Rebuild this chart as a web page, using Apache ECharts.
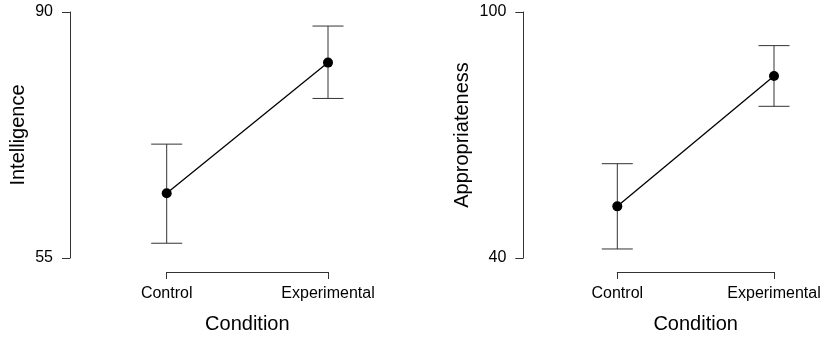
<!DOCTYPE html>
<html>
<head>
<meta charset="utf-8">
<script src="https://cdn.jsdelivr.net/npm/echarts@6/dist/echarts.min.js"></script>
<style>
  html, body { margin: 0; padding: 0; background: #fff; }
  #main { width: 828px; height: 339px; }
</style>
</head>
<body>
<div id="main"></div>
<script>
// data
var conditions = ['Control', 'Experimental'];

var intelMean = [64.2, 82.8];
var intelLow = [57.1, 77.7];
var intelHigh = [71.2, 88.0];
var intelTicks = [55, 90];

var apprMean = [52.6, 84.4];
var apprLow = [42.2, 77.0];
var apprHigh = [63.0, 91.8];
var apprTicks = [40, 100];

var myChart = echarts.init(document.getElementById('main'));

var font = 'Liberation Sans, Arial, sans-serif';

// error bar drawing (vertical line + caps)
function errorBar(params, api) {
    var x = api.value(0);
    var lo = api.coord([x, api.value(1)]);
    var hi = api.coord([x, api.value(2)]);
    var hw = 15.5;
    var st = { stroke: '#333', lineWidth: 1 };
    return {
        type: 'group',
        children: [
            { type: 'line', shape: { x1: lo[0], y1: lo[1], x2: hi[0], y2: hi[1] }, style: st },
            { type: 'line', shape: { x1: lo[0] - hw, y1: lo[1], x2: lo[0] + hw, y2: lo[1] }, style: st },
            { type: 'line', shape: { x1: hi[0] - hw, y1: hi[1], x2: hi[0] + hw, y2: hi[1] }, style: st }
        ]
    };
}

function barData(lo, hi) {
    return conditions.map(function (c, i) { return [i, lo[i], hi[i]]; });
}

function xAxisOpt(idx) {
    return {
        gridIndex: idx,
        type: 'category',
        data: conditions,
        boundaryGap: false,
        position: 'bottom',
        offset: 14,
        axisLine: { lineStyle: { color: '#333', width: 1 } },
        axisTick: { show: true, length: 7, lineStyle: { color: '#333' } },
        axisLabel: { margin: 14, color: '#000', fontSize: 16, fontFamily: font },
        splitLine: { show: false },
        name: 'Condition',
        nameLocation: 'middle',
        nameGap: 42,
        nameTextStyle: { color: '#000', fontSize: 20, fontFamily: font }
    };
}

function yAxisOpt(idx, name, ticks, offset, gap) {
    return {
        gridIndex: idx,
        type: 'value',
        min: ticks[0],
        max: ticks[ticks.length - 1],
        offset: offset,
        axisLine: { show: true, lineStyle: { color: '#333', width: 1 } },
        axisTick: { show: true, length: 8, customValues: ticks, lineStyle: { color: '#333' } },
        axisLabel: { margin: 17, color: '#000', fontSize: 16, fontFamily: font, customValues: ticks },
        splitLine: { show: false },
        name: name,
        nameLocation: 'middle',
        nameGap: gap,
        nameTextStyle: { color: '#000', fontSize: 20, fontFamily: font }
    };
}

function meanSeries(idx, vals) {
    return {
        type: 'line',
        xAxisIndex: idx,
        yAxisIndex: idx,
        data: vals,
        symbol: 'circle',
        symbolSize: 10,
        itemStyle: { color: '#000' },
        lineStyle: { color: '#000', width: 1.3 },
        z: 3,
        animation: false
    };
}

function errSeries(idx, lo, hi) {
    return {
        type: 'custom',
        xAxisIndex: idx,
        yAxisIndex: idx,
        renderItem: errorBar,
        encode: { x: 0, y: [1, 2] },
        data: barData(lo, hi),
        z: 2,
        animation: false
    };
}

var option = {
    backgroundColor: '#fff',
    animation: false,
    grid: [
        { left: 166.7, right: 828 - 328, top: 12, bottom: 339 - 258 },
        { left: 617.3, right: 828 - 774, top: 12, bottom: 339 - 258 }
    ],
    xAxis: [xAxisOpt(0), xAxisOpt(1)],
    yAxis: [
        yAxisOpt(0, 'Intelligence', intelTicks, 96.7, 42),
        yAxisOpt(1, 'Appropriateness', apprTicks, 94, 51)
    ],
    series: [
        errSeries(0, intelLow, intelHigh),
        meanSeries(0, intelMean),
        errSeries(1, apprLow, apprHigh),
        meanSeries(1, apprMean)
    ]
};

myChart.setOption(option);
</script>
</body>
</html>
